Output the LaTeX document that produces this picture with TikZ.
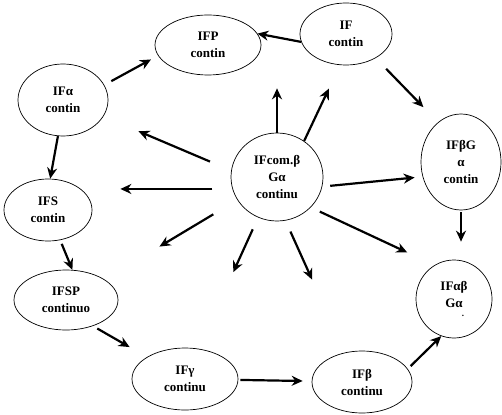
\documentclass[tikz,border=0pt]{standalone}
\usepackage{fontspec}
\setmainfont{Liberation Serif}
\usetikzlibrary{shapes.geometric,arrows.meta}
\begin{document}
\begin{tikzpicture}[x=1pt,y=-1pt,font=\bfseries\fontsize{13}{17}\selectfont]
    \tikzset{el/.style={draw, ellipse, line width=0.7pt, inner sep=0pt, align=center},
      ar/.style={-{Stealth[length=11pt,width=10pt]}, line width=2.2pt}}
    \useasboundingbox (0,0) rectangle (502,414);
    \node[el, minimum width=106pt, minimum height=60pt] (fp) at (208,45) {IFP\\contin};
    \node[el, minimum width=92pt, minimum height=62pt] (f) at (346,34) {IF\\contin};
    \node[el, minimum width=90pt, minimum height=72pt] (fa) at (63,100) {IFα\\contin};
    \node[el, minimum width=80pt, minimum height=96pt] (fbg) at (461,162) {IFβG\\α\\contin};
    \node[el, minimum width=92pt, minimum height=88pt] (fcom) at (277,177) {IFcom.β\\Gα\\continu};
    \node[el, minimum width=88pt, minimum height=62pt] (fs) at (48,210) {IFS\\contin};
    \node[el, minimum width=104pt, minimum height=60pt] (fsp) at (66,300) {IFSP\\continuo};
    \node[el, minimum width=76pt, minimum height=78pt] (fab) at (454,299) {IFαβ\\Gα\\[-8pt]\hspace*{18pt}{\small .}};
    \node[el, minimum width=106pt, minimum height=62pt] (fg) at (185,379) {IFγ\\continu};
    \node[el, minimum width=100pt, minimum height=62pt] (fb) at (362,382) {IFβ\\continu};
    % round the ring
    \draw[ar] (f.190) -- (fp.13);
    \draw[ar, shorten <=8pt, shorten >=8pt] (fa.20) -- (fp.192);
    \draw[ar, shorten <=15pt, shorten >=21pt] (f.-39) -- (fbg.120);
    \draw[ar] (fa.-98) -- (fs.86);
    \draw[ar, shorten <=4pt] (fs.-68) -- (fsp.78);
    \draw[ar, shorten <=5pt, shorten >=20pt] (fsp.-44) -- (fg.150);
    \draw[ar, shorten <=2pt, shorten >=9pt] (fg) -- (fb);
    \draw[ar, shorten <=4pt] (fb.16) -- (fab.-109);
    \draw[ar, shorten <=2pt, shorten >=18pt] (fbg.south) -- (fbg.south |- fab.north);
    % out of the middle
    \draw[ar, shorten >=13pt] (fcom.north) -- (fcom.north |- fp.south);
    \draw[ar, shorten >=26pt] (fcom.53) -- (f.-101);
    \draw[ar, shorten <=8pt, shorten >=8pt] (fcom.-12) -- (fbg.201);
    \draw[ar, shorten <=10pt, shorten >=30pt] (fcom.-42) -- (fab.120);
    \draw[ar, shorten <=12pt, shorten >=80pt] (fcom.-79) -- (fb.120);
    \draw[ar, shorten <=13pt, shorten >=84pt] (fcom.-115) -- (fg.66);
    \draw[ar, shorten <=28pt, shorten >=64pt] (fcom.-150) -- (fsp.28);
    \draw[ar, shorten <=20pt, shorten >=28pt] (fcom.195) -- (fcom.195 -| fs.east);
    \draw[ar, shorten <=23pt, shorten >=38pt] (fcom.172) -- (fa.-22);
  \end{tikzpicture}
\end{document}
